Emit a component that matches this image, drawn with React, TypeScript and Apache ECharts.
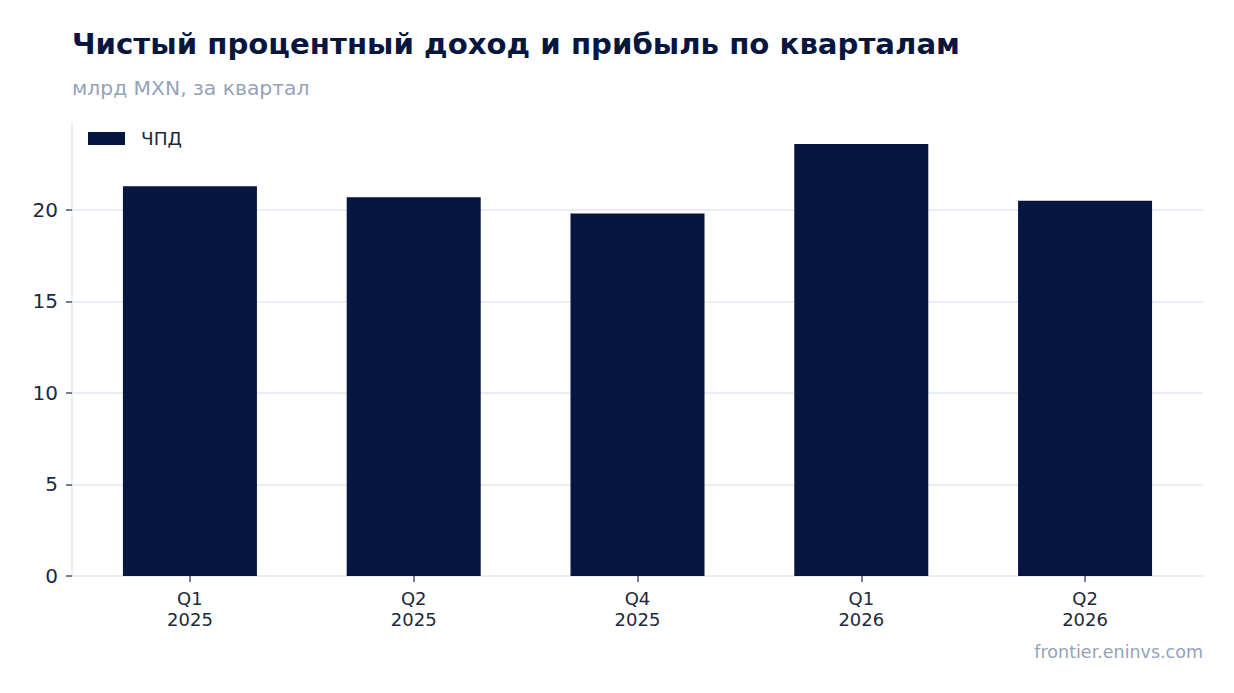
import { useEffect, useRef } from 'react';
import * as echarts from 'echarts';

const categories = ['Q1\n2025', 'Q2\n2025', 'Q4\n2025', 'Q1\n2026', 'Q2\n2026'];
const nii = [21.3, 20.7, 19.8, 23.6, 20.5];
const yTicks = [0, 5, 10, 15, 20];

const FONT = '"DejaVu Sans", sans-serif';

export default function App() {
  const chartRef = useRef<HTMLDivElement>(null);

  useEffect(() => {
    if (!chartRef.current) return;
    const chart = echarts.init(chartRef.current, null, { renderer: 'svg' });

    const xIdx = categories.map((_, i) => i);

    chart.setOption({
      animation: false,
      backgroundColor: '#ffffff',
      textStyle: { fontFamily: FONT },
      title: [
        {
          text: 'Чистый процентный доход и прибыль по кварталам',
          left: 72,
          top: 29,
          padding: 0,
          textStyle: { fontFamily: FONT, fontSize: 29.2, fontWeight: 'bold', color: '#061640' },
        },
        {
          text: 'млрд MXN, за квартал',
          left: 72,
          top: 78,
          padding: 0,
          textStyle: { fontFamily: FONT, fontSize: 20.3, fontWeight: 'normal', color: '#94a3b8' },
        },
        {
          text: 'frontier.eninvs.com',
          right: 31,
          top: 643,
          padding: 0,
          textStyle: { fontFamily: FONT, fontSize: 17.5, fontWeight: 'normal', color: '#94a3b8' },
        },
      ],
      legend: {
        left: 88,
        top: 129,
        padding: 0,
        itemWidth: 37,
        itemHeight: 13,
        icon: 'rect',
        textStyle: { fontFamily: FONT, fontSize: 18.5, color: '#1e293b', padding: [0, 0, 0, 11] },
        data: ['ЧПД'],
      },
      grid: { left: 72, right: 31, top: 123, bottom: 117, containLabel: false },
      xAxis: {
        type: 'value',
        min: -0.527,
        max: 4.527,
        splitLine: { show: false },
        axisLine: { show: true, onZero: false, lineStyle: { color: '#e2e8f0', width: 1.5 } },
        axisTick: {
          show: true,
          length: 6,
          customValues: xIdx,
          lineStyle: { color: '#475569', width: 1.5 },
        },
        axisLabel: {
          fontFamily: FONT,
          fontSize: 18,
          color: '#1e293b',
          lineHeight: 21,
          margin: 12,
          customValues: xIdx,
          formatter: (v: number) => categories[Math.round(v)] ?? '',
        },
      },
      yAxis: {
        type: 'value',
        min: 0,
        max: 24.75,
        interval: 5,
        axisLine: { show: true, onZero: false, lineStyle: { color: '#e2e8f0', width: 1.5 } },
        axisTick: {
          show: true,
          length: 6,
          customValues: yTicks,
          lineStyle: { color: '#475569', width: 1.5 },
        },
        axisLabel: {
          fontFamily: FONT,
          fontSize: 20,
          color: '#1e293b',
          margin: 14,
          customValues: yTicks,
        },
        splitLine: { show: false },
      },
      series: [
        {
          name: 'ЧПД',
          type: 'bar',
          data: nii.map((v, i) => [i, v]),
          barWidth: 134,
          itemStyle: { color: '#061640' },
          markLine: {
            silent: true,
            symbol: 'none',
            label: { show: false },
            z: 0,
            lineStyle: { color: '#e2e8f0', type: 'solid', width: 1.5 },
            data: yTicks.filter((v) => v > 0).map((v) => ({ yAxis: v })),
          },
          z: 2,
        },
      ],
    });

    return () => {
      chart.dispose();
    };
  }, []);

  return (
    <div
      ref={chartRef}
      style={{ position: 'absolute', left: 0, top: 0, width: 1234, height: 693 }}
    />
  );
}
